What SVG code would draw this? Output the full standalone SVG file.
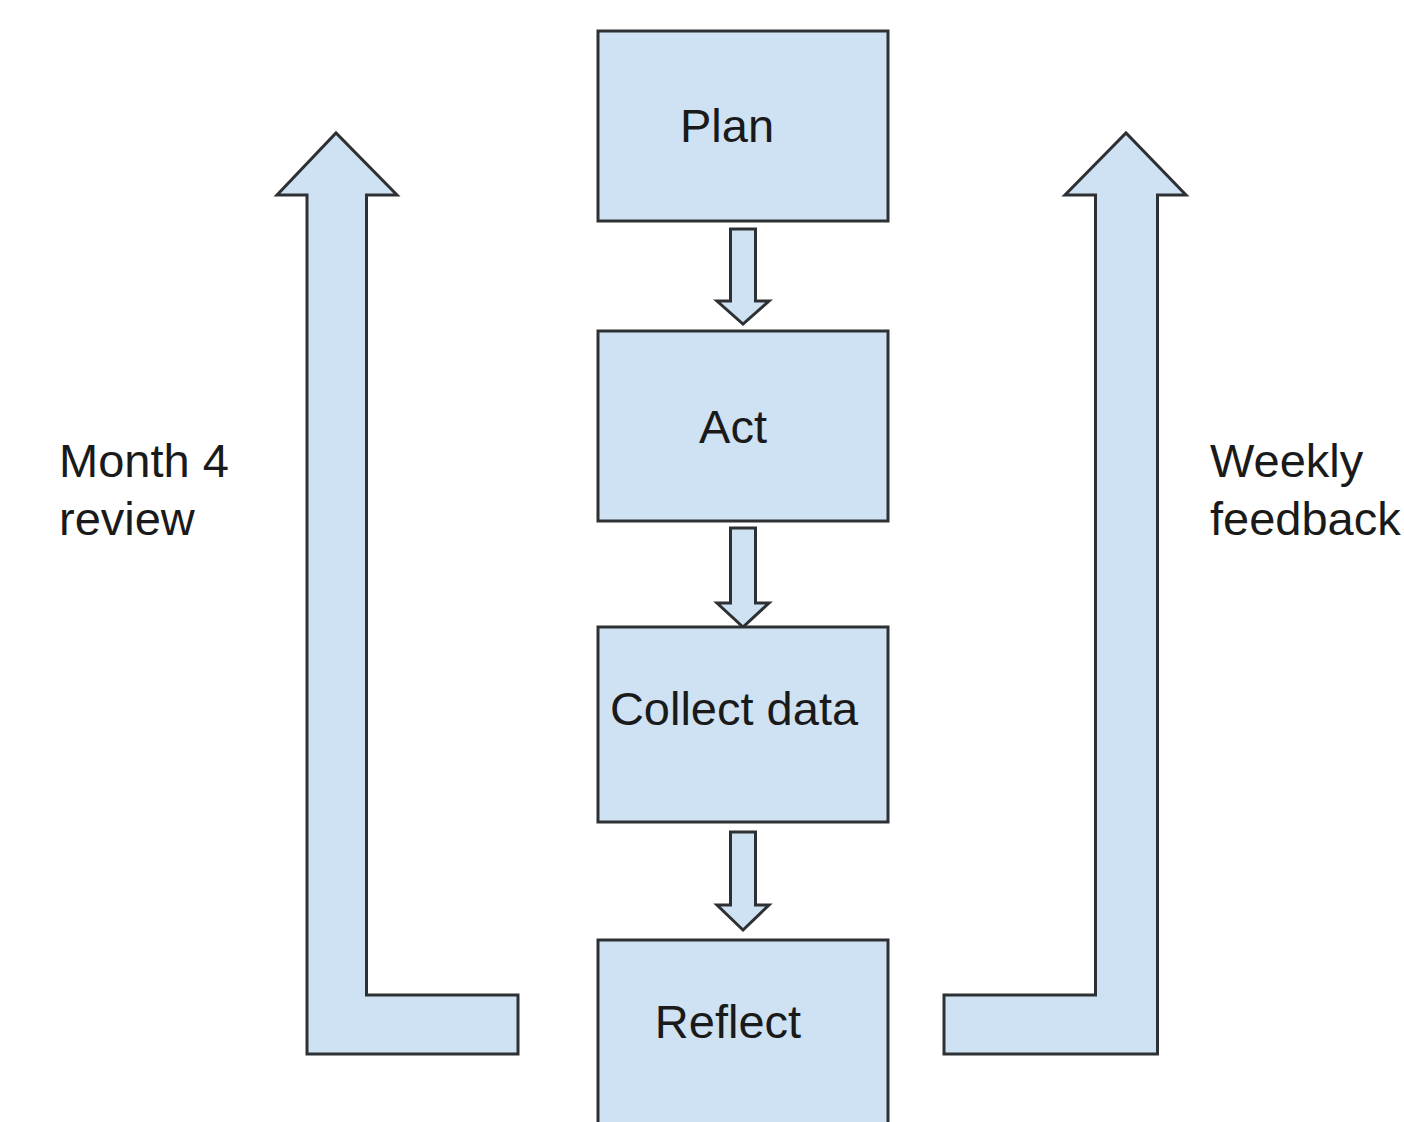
<svg xmlns="http://www.w3.org/2000/svg" width="1404" height="1122" viewBox="0 0 1404 1122">
<style>
.box{fill:#cfe2f3;stroke:#2e3133;stroke-width:3}
.arr{fill:#cfe2f3;stroke:#2e3133;stroke-width:3;stroke-linejoin:miter}
.t{font-family:"Liberation Sans",Arial,sans-serif;font-size:47px;fill:#1a1a1a}
</style>
<rect width="1404" height="1122" fill="#ffffff"/>
<g id="connectors">
<path class="arr" d="M730.5,229 H755.5 V301 H769 L743,324 L717,301 H730.5 Z"/>
<path class="arr" d="M730.5,528 H755.5 V603 H769 L743,627 L717,603 H730.5 Z"/>
<path class="arr" d="M730.5,832 H755.5 V905 H769 L743,930 L717,905 H730.5 Z"/>
<path class="arr" d="M518,1054 H307 V195 H277 L336,133 L397,195 H366.5 V995 H518 Z"/>
<path class="arr" d="M944,1054 H1157.5 V195 H1186 L1126,133 L1065,195 H1095.5 V995 H944 Z"/>
</g>
<g id="plan"><rect class="box" x="598" y="31" width="290" height="190"/><text class="t" x="727" y="142" text-anchor="middle">Plan</text></g>
<g id="act"><rect class="box" x="598" y="331" width="290" height="190"/><text class="t" x="733" y="443" text-anchor="middle">Act</text></g>
<g id="collect"><rect class="box" x="598" y="627" width="290" height="195"/><text class="t" x="734" y="725" text-anchor="middle">Collect data</text></g>
<g id="reflect"><rect class="box" x="598" y="940" width="290" height="200"/><text class="t" x="728" y="1038" text-anchor="middle">Reflect</text></g>
<g id="month4"><text class="t" x="59" y="477">Month 4</text><text class="t" x="59" y="535">review</text></g>
<g id="weekly"><text class="t" x="1210" y="477">Weekly</text><text class="t" x="1210" y="535">feedback</text></g>
</svg>
